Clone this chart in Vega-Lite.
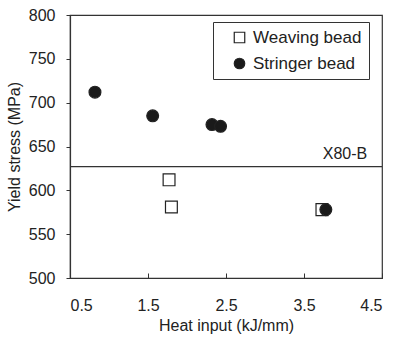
{
  "$schema": "https://vega.github.io/schema/vega-lite/v6.json",
  "width": 312,
  "height": 263,
  "autosize": {"type": "none"},
  "padding": {"left": 70, "top": 15, "right": 12, "bottom": 60},
  "background": "white",
  "config": {
    "font": "Liberation Sans",
    "view": {"stroke": "#333", "strokeWidth": 1.2},
    "axis": {"grid": false, "domainColor": "#333", "tickColor": "#333", "labelColor": "#222", "titleColor": "#222", "labelFontSize": 16, "titleFontSize": 16, "titleFontWeight": "normal", "domainWidth": 1.2, "labelFont": "Liberation Sans", "titleFont": "Liberation Sans"},
    "legend": {"labelFont": "Liberation Sans"}
  },
  "datasets": {
    "pts": [
      {"heat": 1.77, "ys": 612, "type": "Weaving bead"},
      {"heat": 1.80, "ys": 581, "type": "Weaving bead"},
      {"heat": 3.73, "ys": 578, "type": "Weaving bead"},
      {"heat": 0.82, "ys": 712, "type": "Stringer bead"},
      {"heat": 1.56, "ys": 685, "type": "Stringer bead"},
      {"heat": 2.32, "ys": 675, "type": "Stringer bead"},
      {"heat": 2.43, "ys": 673, "type": "Stringer bead"},
      {"heat": 3.78, "ys": 578, "type": "Stringer bead"}
    ],
    "ref": [{"ys": 627, "heat": 4.31, "label": "X80-B"}]
  },
  "layer": [
    {
      "data": {"name": "ref"},
      "mark": {"type": "rule", "color": "#333", "strokeWidth": 1.2},
      "encoding": {"y": {"field": "ys", "type": "quantitative"}}
    },
    {
      "data": {"name": "ref"},
      "mark": {"type": "text", "align": "right", "baseline": "alphabetic", "fontSize": 16, "font": "Liberation Sans", "color": "#222", "dy": -8},
      "encoding": {
        "x": {"field": "heat", "type": "quantitative"},
        "y": {"field": "ys", "type": "quantitative"},
        "text": {"field": "label"}
      }
    },
    {
      "data": {"name": "pts"},
      "mark": {"type": "point", "filled": true, "size": 140, "strokeWidth": 1.2, "stroke": "#222", "opacity": 1},
      "encoding": {
        "x": {"field": "heat", "type": "quantitative", "scale": {"domain": [0.5, 4.5], "nice": false, "zero": false},
              "axis": {"values": [0.5, 1.5, 2.5, 3.5, 4.5], "format": ".1f", "title": "Heat input (kJ/mm)", "tickSize": -5, "labelPadding": 24, "titlePadding": 4}},
        "y": {"field": "ys", "type": "quantitative", "scale": {"domain": [500, 800], "nice": false, "zero": false},
              "axis": {"values": [500, 550, 600, 650, 700, 750, 800], "title": "Yield stress (MPa)", "tickSize": 4, "labelPadding": 11, "titlePadding": 6}},
        "shape": {"field": "type", "type": "nominal", "scale": {"domain": ["Weaving bead", "Stringer bead"], "range": ["square", "circle"]},
                  "legend": {"title": null, "orient": "none", "legendX": 143, "legendY": 7, "strokeColor": "#333", "fillColor": "white", "padding": 7, "labelFontSize": 17, "labelColor": "#222", "symbolSize": 110, "symbolStrokeWidth": 1.2, "rowPadding": 8, "labelOffset": 5, "symbolOffset": 11}},
        "fill": {"field": "type", "type": "nominal", "scale": {"domain": ["Weaving bead", "Stringer bead"], "range": ["white", "#1a1a1a"]}, "legend": {"title": null, "orient": "none", "legendX": 143, "legendY": 7, "strokeColor": "#333", "fillColor": "white", "padding": 7, "labelFontSize": 17, "labelColor": "#222", "symbolSize": 110, "symbolStrokeWidth": 1.2, "rowPadding": 8, "labelOffset": 5, "symbolOffset": 11}}
      }
    }
  ]
}
